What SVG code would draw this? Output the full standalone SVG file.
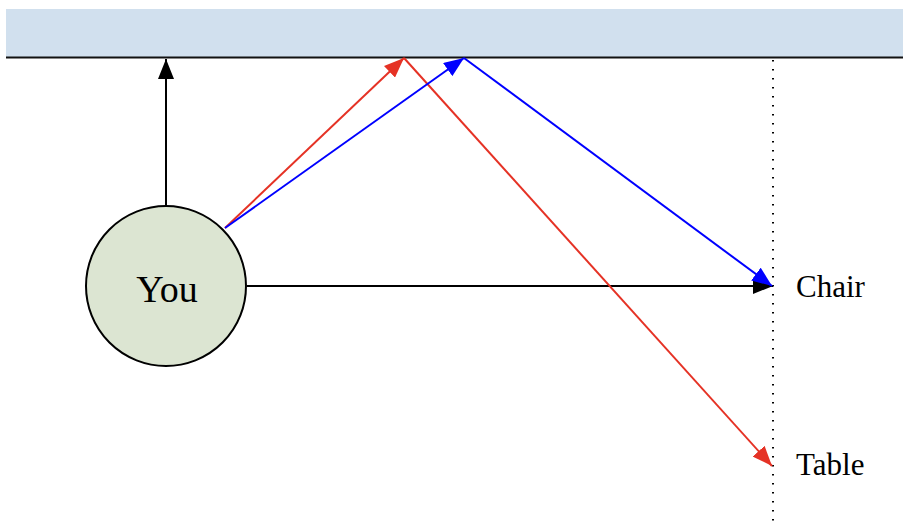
<svg xmlns="http://www.w3.org/2000/svg" width="903" height="527" viewBox="0 0 903 527">
<style>
text{font-family:"Liberation Serif","Times New Roman",serif;fill:#000}
.c{fill:none;stroke-width:2}
</style>
<defs>
<marker id="ak" viewBox="0 0 20 16" refX="20" refY="8" markerWidth="20" markerHeight="16" markerUnits="userSpaceOnUse" orient="auto"><path d="M0,0L20,8L0,16z" fill="#000"/></marker>
<marker id="ar" viewBox="0 0 20 16" refX="20" refY="8" markerWidth="20" markerHeight="16" markerUnits="userSpaceOnUse" orient="auto"><path d="M0,0L20,8L0,16z" fill="#e53225"/></marker>
<marker id="ab" viewBox="0 0 20 16" refX="20" refY="8" markerWidth="20" markerHeight="16" markerUnits="userSpaceOnUse" orient="auto"><path d="M0,0L20,8L0,16z" fill="#0000ff"/></marker>
</defs>
<g id="wall">
<rect x="6" y="9" width="897" height="48" fill="#d1e0ee"/>
<line x1="6" y1="57.5" x2="903" y2="57.5" stroke="#111" stroke-width="2"/>
</g>
<g id="mirror-line">
<line x1="773" y1="60" x2="773" y2="527" stroke="#000" stroke-width="2" stroke-dasharray="1.5 7.5"/>
</g>
<g id="connectors">
<line class="c" x1="166" y1="205" x2="166" y2="59" stroke="#000" marker-end="url(#ak)"/>
<line class="c" x1="247" y1="286" x2="773" y2="286" stroke="#000" marker-end="url(#ak)"/>
<line class="c" x1="225" y1="228" x2="404" y2="58" stroke="#e53225" marker-end="url(#ar)"/>
<line class="c" x1="404" y1="58" x2="772" y2="466" stroke="#e53225" marker-end="url(#ar)"/>
<line class="c" x1="225" y1="228" x2="464" y2="58" stroke="#0000ff" marker-end="url(#ab)"/>
<line class="c" x1="464" y1="58" x2="772" y2="286" stroke="#0000ff" marker-end="url(#ab)"/>
</g>
<g id="you">
<circle cx="166" cy="286" r="80" fill="#dce5d2" stroke="#000" stroke-width="2"/>
<text x="167" y="302" font-size="38" text-anchor="middle">You</text>
</g>
<g id="chair"><text x="796" y="297" font-size="31">Chair</text></g>
<g id="table"><text x="796" y="475" font-size="31">Table</text></g>
</svg>
